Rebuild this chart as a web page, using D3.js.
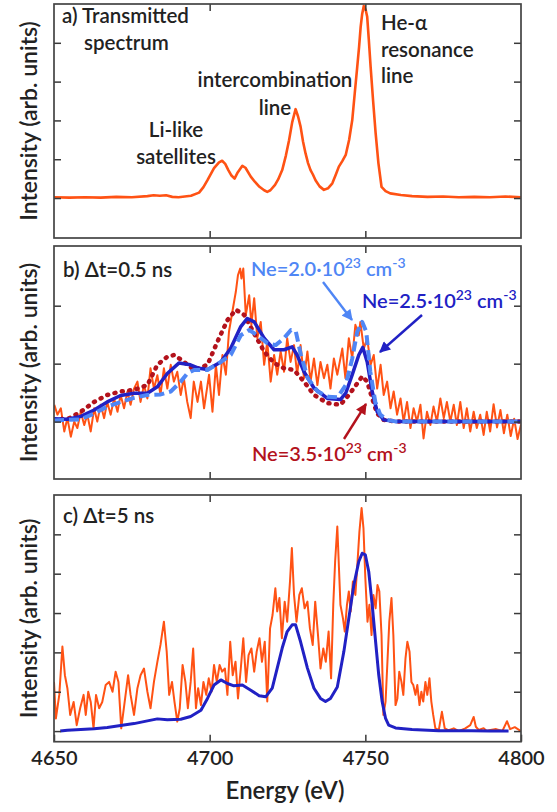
<!DOCTYPE html>
<html>
<head>
<meta charset="utf-8">
<script src="https://cdn.jsdelivr.net/npm/d3@7"></script>
<style>
  body { margin: 0; background: #fff; }
  svg text { font-family: "Gill Sans", Lato, "Open Sans", sans-serif; font-weight: 600; fill: #222; }
</style>
</head>
<body>
<svg id="chart" width="557" height="812"></svg>
<script>
// ---- data (energy in eV, intensity in tick units) ----

// a) transmitted spectrum
const aEnergy = [4650,4655,4660,4665,4670,4675,4680,4682,4684,4686,4688,4690,4692,4694,4696.6,4698,4699.3,4701.4,4703,4704,4705,4706,4707,4708,4709,4710.5,4711.5,4713.2,4714.5,4716,4717.5,4718.5,4719.5,4721,4722,4723.3,4724.5,4725.5,4726.5,4727.6,4728.4,4729.2,4730,4730.8,4731.6,4732.4,4733.2,4734,4735.3,4736.7,4738,4739.4,4740.5,4741.5,4742.6,4743.7,4744.8,4745.8,4746.6,4747.4,4748,4748.5,4749,4749.5,4750.1,4750.6,4751.1,4751.7,4752.5,4753.3,4754.2,4755.2,4756.5,4758,4761.4,4765,4770,4775,4780,4785,4790,4795,4800];
const aIntensity = [0.02,0.01,0.02,0.01,0.03,0.02,0.05,0.07,0.06,0.07,0.03,0.02,0.04,0.06,0.14,0.28,0.46,0.77,0.92,0.96,0.88,0.72,0.58,0.5,0.66,0.83,0.78,0.55,0.42,0.29,0.2,0.16,0.2,0.34,0.48,0.72,1.1,1.49,1.95,2.29,2.1,1.84,1.45,1.15,0.9,0.72,0.6,0.46,0.3,0.21,0.25,0.38,0.6,0.81,0.95,1.11,1.5,2.01,2.7,3.38,3.9,4.41,4.75,4.95,4.85,4.67,4.1,3.38,2.5,1.68,0.9,0.29,0.18,0.12,0.08,0.05,0.03,0.04,0.02,0.03,0.02,0.04,0.02];

// b) dt = 0.5 ns, measured
const bEnergy = [4650.1,4651.1,4652.2,4653.3,4654.3,4655.4,4656.5,4657.5,4658.6,4659.7,4660.7,4661.8,4662.9,4663.9,4665,4666.1,4667.1,4668.2,4669.3,4670.4,4671.4,4672.5,4673.6,4674.6,4675.7,4676.8,4677.8,4678.9,4680,4681,4682.1,4683.2,4684.2,4685.3,4686.4,4687.5,4688.5,4689.6,4690.7,4691.7,4692.8,4693.9,4694.9,4696.1,4697.2,4698.2,4699.8,4700.9,4702,4703,4704.1,4705.2,4706.2,4707.3,4708.4,4709.1,4709.8,4710.2,4710.8,4711.6,4712.7,4713.4,4714.3,4715.3,4716.4,4717.5,4718.5,4719.6,4720.7,4721.7,4722.8,4723.9,4724.9,4726,4727.1,4728.1,4729.2,4730.3,4731.4,4732.4,4733.5,4734.6,4735.6,4736.7,4737.8,4738.8,4739.9,4741,4742.6,4743.6,4744.7,4745.8,4746.8,4747.9,4748.4,4749.5,4750.6,4751.7,4752.7,4753.8,4754.9,4755.9,4757,4758.1,4759.1,4760.2,4761.3,4762.3,4763.4,4764.5,4765.5,4766.6,4767.7,4768.7,4769.8,4770.9,4771.9,4773,4774.1,4775.2,4776.2,4777.3,4778.4,4779.4,4780.5,4781.6,4782.6,4783.7,4784.8,4785.8,4786.9,4788,4789,4790.1,4791.2,4792.3,4793.4,4794.5,4795.6,4796.7,4797.8,4798.9,4800];
const bIntensity = [0.29,0.12,0.23,-0.17,0.06,-0.26,0,-0.11,0.17,-0.06,0.12,-0.17,0.23,0,0.29,0.06,0.34,0.12,0.4,0.17,0.46,0.23,0.52,0.29,0.57,0.69,0.34,0.63,0.4,0.92,0.57,0.8,0.46,0.92,0.57,0.98,0.69,0.86,0.46,0.75,0.34,0.06,0.69,0.34,0.69,0.23,0.81,0.17,0.98,0.46,1.15,0.81,1.55,1.9,2.24,2.53,2.64,2.47,2.64,1.84,2.18,1.67,2.13,1.44,1.72,0.98,1.38,0.69,1.15,0.81,1.21,0.86,1.44,1.03,1.32,0.81,1.32,0.75,1.21,0.69,1.09,0.63,1.03,0.75,0.98,0.57,1.09,0.81,1.26,0.75,1.44,1.09,1.67,1.49,1.72,1.26,1.44,0.98,1.15,0.57,0.98,0.46,0.69,0.23,0.52,0.12,0.4,0,0.34,-0.11,0.23,0,0.29,-0.29,0.17,-0.06,0.26,0,0.4,0.06,0.34,0,0.29,-0.06,0.34,-0.11,0.23,-0.17,0.17,-0.11,0.12,-0.23,0.17,-0.17,0.3,-0.1,0.2,-0.2,0.12,-0.25,0.05,-0.3,-0.05];

// b) model fits for three electron densities
const fit20Energy = [4650,4658.6,4662.9,4667.1,4671.4,4675.7,4680,4684.3,4687.5,4690.7,4692.8,4695,4699.3,4703.6,4706.8,4710,4712.7,4715.3,4718.6,4721.2,4723.9,4726.1,4727.7,4729.3,4731.5,4734.7,4737.9,4741.1,4743.7,4745.8,4747.4,4749,4750.3,4751.6,4753.2,4754.8,4757,4760,4800];
const fit20Intensity = [0.02,0.04,0.14,0.26,0.34,0.41,0.46,0.47,0.52,0.69,0.83,0.89,0.89,1.03,1.15,1.49,1.58,1.49,1.35,1.32,1.44,1.58,1.55,1.15,0.75,0.52,0.43,0.42,0.63,1.09,1.55,1.72,1.55,0.86,0.34,0.12,0.03,0,0];
const fit25Energy = [4650,4654.3,4658.6,4662.9,4667.1,4671.4,4675.7,4680,4683.2,4686.4,4690.1,4693.8,4696.6,4699.3,4703.6,4706.8,4710,4712.1,4714.3,4717.5,4720.7,4723.9,4726.5,4728.1,4730.3,4733.5,4737.8,4742,4743.7,4745.8,4747.9,4749.2,4750.6,4752.2,4753.8,4755.9,4760,4800];
const fit25Intensity = [0.05,0.04,0.09,0.2,0.34,0.45,0.49,0.49,0.6,0.83,1.01,0.98,0.92,0.9,1.03,1.27,1.64,1.78,1.72,1.44,1.24,1.24,1.29,1.15,0.86,0.58,0.4,0.38,0.49,0.81,1.15,1.28,1.03,0.52,0.17,0.03,0,0];
const fit35Energy = [4650,4655,4658.6,4662.9,4667.1,4671.4,4675.7,4680,4683.2,4686.4,4688.6,4691.8,4695,4699.3,4702.5,4705.7,4708.4,4711.1,4714.3,4717.5,4720.7,4723.9,4727.1,4730.3,4733.5,4737.8,4742,4744.7,4747.4,4749,4750.6,4752.2,4753.8,4755.9,4760,4800];
const fit35Intensity = [0.03,0.06,0.17,0.34,0.46,0.52,0.55,0.63,0.98,1.12,1.15,1.03,0.89,0.98,1.38,1.75,1.93,1.84,1.52,1.21,1.01,0.92,0.89,0.69,0.46,0.32,0.29,0.46,0.66,0.78,0.69,0.4,0.14,0.03,0,0];

// c) dt = 5 ns, measured and fit
const cEnergy = [4650,4650.6,4651.7,4652.7,4653.5,4654.3,4655.2,4656.3,4657.3,4658.4,4659.5,4660.2,4661,4661.8,4662.7,4663.5,4664.5,4665.5,4666.6,4667.7,4668.8,4669.8,4670.7,4671.6,4672.7,4673.8,4674.6,4675.7,4676.8,4677.8,4678.9,4680,4681,4682.1,4683.2,4684.2,4685.3,4686.2,4687,4687.9,4688.7,4689.6,4690.4,4691.3,4692.2,4693,4693.9,4694.7,4695.6,4696.3,4697.2,4698,4698.9,4699.7,4700.6,4701.4,4702.3,4703.2,4704,4704.9,4705.7,4706.6,4707.4,4708.3,4709.1,4710,4710.8,4711.7,4712.5,4713.4,4714.3,4715.1,4716,4716.8,4717.7,4718.5,4719.4,4720.2,4721.1,4721.7,4722.4,4723.2,4724.1,4724.9,4725.8,4726.4,4727.1,4727.9,4728.8,4729.6,4730.5,4731.4,4732.2,4733.1,4733.9,4734.8,4735.6,4736.5,4737.3,4738.2,4739,4739.7,4740.3,4741,4742,4742.8,4743.4,4744.1,4744.7,4745.3,4746,4746.8,4747.5,4748.1,4748.8,4749.4,4750,4750.7,4751.3,4752,4752.6,4753.3,4753.9,4754.5,4755.2,4755.8,4756.5,4757.1,4757.7,4758.4,4759,4759.7,4760.3,4760.9,4761.6,4762.2,4762.9,4763.5,4764.2,4764.8,4765.4,4766.1,4766.7,4767.4,4768,4768.6,4769.3,4769.9,4770.6,4771.2,4771.8,4772.5,4773.6,4774.6,4775.5,4776.8,4778.4,4780,4782.1,4783.7,4784.8,4785.5,4786.4,4788,4789,4790.2,4792,4794,4795.5,4796.5,4798,4800];
const cIntensity = [1.25,0.32,0.92,2.15,1.42,1.09,0.41,0.74,0.15,0.58,0.92,0.41,1,0.74,0.07,0.92,0.58,0.74,1.17,1.25,1,1.51,1.25,0.07,0.74,1.42,0.92,0.41,1.09,1.42,1.59,1,0.58,1.25,1.76,2.19,2.78,2.02,0.92,1.25,0.74,0.24,0.58,1.68,1.25,0.58,1.25,2.1,0.58,1.09,0.66,1.25,0.92,1.34,1,1.68,1.25,1.68,1.51,1.59,0.92,2.27,1.42,1.76,0.83,1.59,2.36,1.25,1.93,2.1,1.51,2.02,2.36,1.76,2.27,0.75,2.61,2.95,3.63,3.04,3.38,2.36,3.29,2.78,3.8,4.65,3.46,2.78,3.46,3.63,3.12,3.29,2.61,2.19,3.29,2.44,1.59,2.1,1.76,2.53,1.34,3.21,4.31,5.2,3.21,2.87,2.53,3.21,3.55,3.04,3.8,3.46,4.31,5.07,5.67,5.16,3.89,2.78,3.21,2.44,3.46,3.12,3.71,3.55,2.44,0.41,0.75,1.76,2.78,3.38,2.44,0.66,0.83,1.51,1.25,0.92,1.85,2.27,2.02,1.25,1.17,0.92,1.17,0.66,1,0.75,1.25,0.92,1.34,0.75,0.41,0.07,0.03,0.49,0.07,0.02,0.07,0,0.07,0.15,0.36,0.11,0.03,0.07,0,0.03,0.05,0,0.25,0.05,0.1,0];
const cFitEnergy = [4652,4654.3,4658.6,4662.9,4667.1,4671.4,4675.7,4680,4683.2,4686.4,4690.7,4693.9,4697.2,4699.3,4701.4,4703.6,4705.7,4707.8,4710.5,4713.2,4715.9,4718,4720.1,4721.7,4723.3,4724.9,4726.5,4727.6,4729.2,4731.4,4733.5,4735.6,4737.2,4738.8,4741,4743.1,4744.7,4746.3,4747.9,4749,4750,4751.1,4752.2,4753.3,4754.3,4755.4,4756.5,4757.5,4759.7,4765,4773.6,4784.2,4790,4796];
const cFitIntensity = [0,0.02,0.04,0.06,0.09,0.14,0.19,0.26,0.31,0.29,0.3,0.37,0.53,0.83,1.17,1.3,1.21,1.15,1.17,1.04,0.9,0.87,1.09,1.6,2.11,2.53,2.7,2.7,2.27,1.6,1.09,0.83,0.75,0.83,1.12,2.02,2.87,3.71,4.31,4.52,4.48,4.05,3.21,2.27,1.43,0.75,0.32,0.15,0.08,0.04,0.01,0.01,0,0];

const xTickValues = [4650, 4700, 4750, 4800];

// ---- layout ----
const orange = "#ff5214", darkBlue = "#2121c4", lightBlue = "#4f86f5", darkRed = "#b3121c";
const left = 54, right = 521;
const svg = d3.select("#chart");

const x = d3.scaleLinear().domain([4650, 4800]).range([left, right]);

const panels = [
  { id: "a", top: 4, bottom: 238, domain: [-1.03, 5], yTicks: [0, 1, 2, 3, 4] },
  { id: "b", top: 246, bottom: 479, domain: [-0.99, 3.03], yTicks: [0, 1, 2] },
  { id: "c", top: 495, bottom: 741.7, domain: [-0.27, 6.0], yTicks: [0, 1, 2, 3, 4, 5] }
];

const defs = svg.append("defs");

function tickStyle(g) {
  g.select(".domain").remove();
  g.selectAll(".tick line").attr("stroke", "#3a3a3a").attr("stroke-width", 1.5);
}

panels.forEach((p) => {
  p.y = d3.scaleLinear().domain(p.domain).range([p.bottom, p.top]);
  p.g = svg.append("g");

  defs.append("clipPath").attr("id", "clip-" + p.id)
    .append("rect")
    .attr("x", left).attr("y", p.top)
    .attr("width", right - left).attr("height", p.bottom - p.top);

  p.plot = p.g.append("g").attr("clip-path", `url(#clip-${p.id})`);

  // inward ticks on all four sides
  p.g.append("g").attr("transform", `translate(${left},0)`)
    .call(d3.axisLeft(p.y).tickValues(p.yTicks).tickSize(-7).tickFormat(""))
    .call(tickStyle);
  p.g.append("g").attr("transform", `translate(${right},0)`)
    .call(d3.axisRight(p.y).tickValues(p.yTicks).tickSize(-7).tickFormat(""))
    .call(tickStyle);
  p.g.append("g").attr("transform", `translate(0,${p.top})`)
    .call(d3.axisTop(x).tickValues([4700, 4750]).tickSize(-7).tickFormat(""))
    .call(tickStyle);

  const bottomAxis = d3.axisBottom(x).tickSize(-7);
  if (p.id === "c") {
    bottomAxis.tickValues(xTickValues).tickPadding(9).tickFormat(d3.format("d"));
  } else {
    bottomAxis.tickValues([4700, 4750]).tickFormat("");
  }
  const bx = p.g.append("g").attr("transform", `translate(0,${p.bottom})`).call(bottomAxis).call(tickStyle);
  bx.selectAll("text").attr("font-size", 20).attr("fill", "#222")
    .style("font-family", '"Gill Sans", Lato, sans-serif').style("font-weight", 600);

  p.g.append("rect")
    .attr("x", left).attr("y", p.top)
    .attr("width", right - left).attr("height", p.bottom - p.top)
    .attr("fill", "none").attr("stroke", "#444").attr("stroke-width", 1.7);

  p.g.append("text")
    .attr("transform", `translate(37,${(p.top + p.bottom) / 2}) rotate(-90)`)
    .attr("text-anchor", "middle")
    .attr("font-size", 23)
    .text("Intensity (arb. units)");
});

function drawLine(p, energy, intensity, color, width, dash) {
  const line = d3.line().x((d) => x(d[0])).y((d) => p.y(d[1]));
  const path = p.plot.append("path")
    .datum(d3.zip(energy, intensity))
    .attr("d", line)
    .attr("fill", "none")
    .attr("stroke", color)
    .attr("stroke-width", width)
    .attr("stroke-linejoin", "round");
  if (dash) path.attr("stroke-dasharray", dash.array).attr("stroke-linecap", dash.cap || "butt");
  return path;
}

const [pa, pb, pc] = panels;

// panel a
drawLine(pa, aEnergy, aIntensity, orange, 2.6);

// panel b
drawLine(pb, bEnergy, bIntensity, orange, 2);
drawLine(pb, fit35Energy, fit35Intensity, darkRed, 4.5, { array: "1,6.5", cap: "round" });
drawLine(pb, fit25Energy, fit25Intensity, darkBlue, 3.5);
drawLine(pb, fit20Energy, fit20Intensity, lightBlue, 4, { array: "10,5" });

// panel c
drawLine(pc, cEnergy, cIntensity, orange, 2);
drawLine(pc, cFitEnergy, cFitIntensity, darkBlue, 3);

// ---- annotations ----
function label(xp, yp, str, size, anchor) {
  return svg.append("text").attr("x", xp).attr("y", yp)
    .attr("font-size", size).attr("text-anchor", anchor || "start").text(str);
}
label(62, 23, "a) Transmitted", 20.5);
label(84, 50, "spectrum", 20.5);
label(381, 30, "He-\u03b1", 20.5);
label(381, 57, "resonance", 20.5);
label(381, 83, "line", 20.5);
label(275, 87, "intercombination", 20.5, "middle");
label(275, 115, "line", 20.5, "middle");
label(176, 137, "Li-like", 20.5, "middle");
label(176, 164, "satellites", 20.5, "middle");
label(63, 277, "b) \u0394t=0.5 ns", 20.5);
label(63, 523, "c) \u0394t=5 ns", 20.5);

svg.append("text")
  .attr("x", 285).attr("y", 799)
  .attr("text-anchor", "middle").attr("font-size", 24)
  .text("Energy (eV)");

function densityLabel(xp, yp, value, color) {
  const t = svg.append("text").attr("x", xp).attr("y", yp).attr("font-size", 20);
  t.append("tspan").attr("fill", color).text(`Ne=${value}\u00b710`);
  t.append("tspan").attr("fill", color).attr("font-size", 14).attr("dy", -8).text("23");
  t.append("tspan").attr("fill", color).attr("dy", 8).text(" cm");
  t.append("tspan").attr("fill", color).attr("font-size", 14).attr("dy", -8).text("-3");
}
densityLabel(251, 276, "2.0", lightBlue);
densityLabel(362, 308, "2.5", darkBlue);
densityLabel(252, 461, "3.5", darkRed);

function arrow(x1, y1, x2, y2, color, id) {
  defs.append("marker").attr("id", id)
    .attr("viewBox", "0 0 10 10").attr("refX", 9).attr("refY", 5)
    .attr("markerWidth", 12).attr("markerHeight", 11)
    .attr("markerUnits", "userSpaceOnUse").attr("orient", "auto")
    .append("path").attr("d", "M0,0 L10,5 L0,10 z").attr("fill", color);
  svg.append("line")
    .attr("x1", x1).attr("y1", y1).attr("x2", x2).attr("y2", y2)
    .attr("stroke", color).attr("stroke-width", 2.4)
    .attr("marker-end", `url(#${id})`);
}
arrow(323, 282, 352, 320, lightBlue, "arrowLight");
arrow(422, 315, 380, 352, darkBlue, "arrowDark");
arrow(344, 439, 366, 404, darkRed, "arrowRed");
</script>
</body>
</html>
